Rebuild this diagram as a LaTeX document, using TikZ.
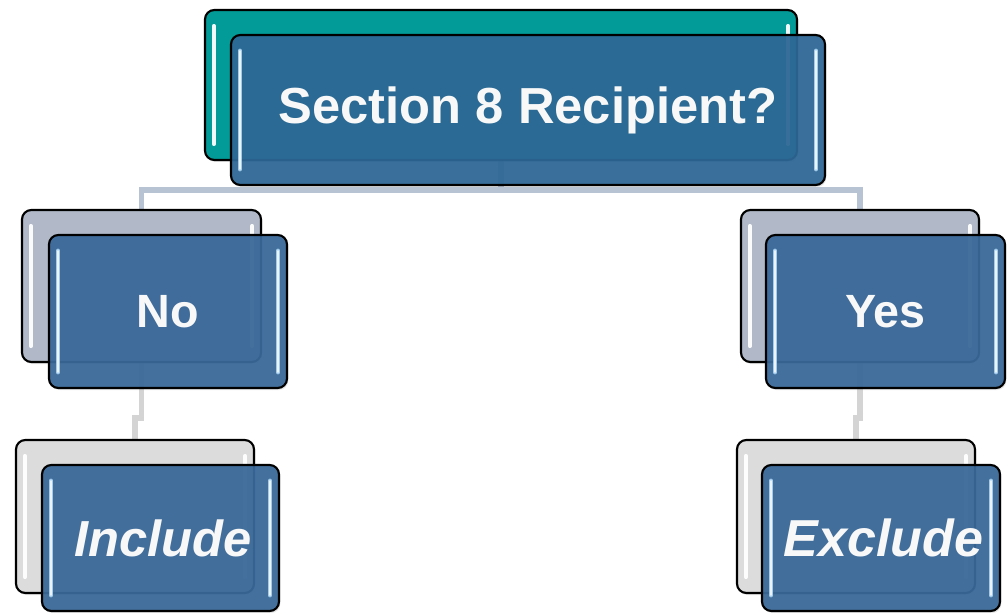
\documentclass[tikz,border=0pt]{standalone}
\usepackage{fontspec}
\setmainfont{Liberation Sans}
\usetikzlibrary{calc,shadows}
\pgfdeclarelayer{background}
\pgfsetlayers{background,main}
\definecolor{tealbox}{HTML}{029B97}
\definecolor{topblue}{HTML}{2C6795}
\definecolor{lowblue}{HTML}{386899}
\definecolor{grayback}{HTML}{B1B9C9}
\definecolor{lightback}{HTML}{DCDCDC}
\definecolor{connA}{HTML}{B7C2D3}
\definecolor{connB}{HTML}{D4D4D4}
\definecolor{hlblue}{HTML}{AFD6F2}
\definecolor{txt}{HTML}{F8F8F8}
\tikzset{
  gbox/.style={draw=black, line width=1.6pt, rounded corners=7pt, inner sep=0pt,
    drop shadow={opacity=0.2, shadow xshift=1pt, shadow yshift=-1.5pt}},
  backbox/.style={gbox},
  frontbox/.style={gbox, fill opacity=0.93, text opacity=1, text=txt, font=\bfseries},
  hlback/.style={draw=white, line width=3pt, line cap=round, opacity=0.95},
  hlfront/.style={draw=hlblue, line width=3.5pt, line cap=round, opacity=0.9},
  hlcore/.style={draw=white, line width=1.2pt, line cap=round, opacity=0.8},
  connupper/.style={draw=connA, line width=4pt},
  connlower/.style={draw=connB, line width=4pt},
}
\newcommand\gboxback[6]{%
  \node[backbox, fill=#6, minimum width=#4*0.75pt, minimum height=#5*0.75pt] (#1) at (#2,#3) {};
  \draw[hlback] ($(#1.north west)+(10,17)$) -- ($(#1.south west)+(10,-17)$);
  \draw[hlback] ($(#1.north east)+(-10,17)$) -- ($(#1.south east)+(-10,-17)$);
}
\newcommand\gboxfront[9]{%
  \node[frontbox, fill=#6, minimum width=#4*0.75pt, minimum height=#5*0.75pt] (#1) at (#2,#3) {\raisebox{#9}{\fontsize{#7}{#7}\selectfont #8}};
  \draw[hlfront] ($(#1.north west)+(10,17)$) -- ($(#1.south west)+(10,-17)$);
  \draw[hlcore] ($(#1.north west)+(10,17)$) -- ($(#1.south west)+(10,-17)$);
  \draw[hlfront] ($(#1.north east)+(-10,17)$) -- ($(#1.south east)+(-10,-17)$);
  \draw[hlcore] ($(#1.north east)+(-10,17)$) -- ($(#1.south east)+(-10,-17)$);
}
\begin{document}
\begin{tikzpicture}[x=0.75pt,y=-0.75pt]
\useasboundingbox (0,0) rectangle (1007,613);
\coordinate (hline) at (0,190);
% back boxes
\gboxback{qback}{501}{85}{592}{150}{tealbox}
\gboxback{noback}{141.5}{286}{239}{152}{grayback}
\gboxback{yesback}{860}{286}{238}{152}{grayback}
\gboxback{incback}{135}{516.5}{238}{153}{lightback}
\gboxback{excback}{856}{516.5}{238}{153}{lightback}
% connectors, behind all boxes
\begin{pgfonlayer}{background}
\draw[connupper] (qback.south) -- (qback.south |- hline) -| (noback.north);
\draw[connupper] (qback.south |- hline) -| (yesback.north);
\draw[connlower] (noback.south) -- ++(0,55) -| (incback.north);
\draw[connlower] (yesback.south) -- ++(0,55) -| (excback.north);
\end{pgfonlayer}
% front boxes
\gboxfront{qfront}{528}{110}{594}{150}{topblue}{38pt}{Section 8 Recipient?}{-1.5pt}
\gboxfront{nofront}{168}{311.5}{238}{153}{lowblue}{35pt}{No}{0pt}
\gboxfront{yesfront}{885.5}{311.5}{239}{153}{lowblue}{35pt}{Yes}{0pt}
\gboxfront{incfront}{160.5}{538}{237}{146}{lowblue}{38pt}{\hspace*{4pt}\itshape Include}{-1pt}
\gboxfront{excfront}{881}{538}{238}{146}{lowblue}{39pt}{\hspace*{4pt}\itshape Exclude}{-1pt}
\end{tikzpicture}
\end{document}
